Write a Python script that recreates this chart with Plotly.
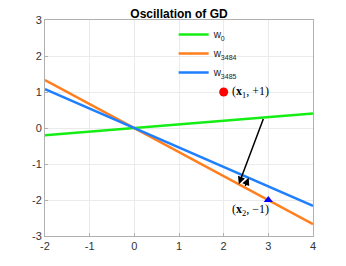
import numpy as np
import plotly.graph_objects as go

# data
x_range = [-2, 4]
slope_w0 = 0.1
slope_w3484 = -0.667
slope_w3485 = -0.54
p1 = (2, 1)
p2 = (3, -2)
big_arrow = [(2.9, 0.29), (2.34, -1.56)]
small_arrow = [(2.47, -1.65), (2.56, -1.38)]
x_ticks = [-2, -1, 0, 1, 2, 3, 4]
y_ticks = [-3, -2, -1, 0, 1, 2, 3]
x_tick_labels = ["-2", "-1", "0", "1", "2", "3", "4"]
y_tick_labels = ["-3", "-2", "-1", "0", "1", "2", "3"]

xs = np.array(x_range, dtype=float)
fig = go.Figure()
fig.add_trace(go.Scatter(x=xs, y=slope_w0 * xs, mode="lines", name="w<sub>0</sub>",
                         line=dict(color="#14ee14", width=2.5)))
fig.add_trace(go.Scatter(x=xs, y=slope_w3484 * xs, mode="lines", name="w<sub>3484</sub>",
                         line=dict(color="#ff7f1f", width=2.5)))
fig.add_trace(go.Scatter(x=xs, y=slope_w3485 * xs, mode="lines", name="w<sub>3485</sub>",
                         line=dict(color="#1f7fff", width=2.5)))
fig.add_trace(go.Scatter(x=[p1[0]], y=[p1[1]], mode="markers", showlegend=False,
                         marker=dict(color="red", size=9, symbol="circle")))
fig.add_trace(go.Scatter(x=[p2[0]], y=[p2[1]], mode="markers", showlegend=False,
                         marker=dict(color="blue", size=8, symbol="triangle-up")))

for (s, e) in [big_arrow, small_arrow]:
    fig.add_annotation(x=e[0], y=e[1], ax=s[0], ay=s[1], xref="x", yref="y",
                       axref="x", ayref="y", showarrow=True, arrowhead=2,
                       arrowsize=1, arrowwidth=1.5, arrowcolor="black", text="")

fig.add_annotation(x=p1[0] + 0.14, y=p1[1], text="(<b>x</b><sub>1</sub>, +1)",
                   showarrow=False, xanchor="left", yanchor="middle",
                   font=dict(family="Liberation Serif", size=12, color="black"))
fig.add_annotation(x=2.6, y=-2.28, text="(<b>x</b><sub>2</sub>, −1)",
                   showarrow=False, xanchor="center", yanchor="middle",
                   font=dict(family="Liberation Serif", size=12, color="black"))

axis_common = dict(showgrid=True, gridcolor="#ebebeb", showline=True, linecolor="#b0b0b0",
                   mirror=True, ticks="inside", ticklen=3, tickcolor="#b0b0b0",
                   zeroline=False, automargin=False,
                   tickfont=dict(family="Liberation Sans", size=11, color="#333"))
fig.update_xaxes(range=x_range, tickvals=x_ticks, ticktext=x_tick_labels, **axis_common)
fig.update_yaxes(range=[-3, 3], tickvals=y_ticks, ticktext=y_tick_labels, **axis_common)

fig.update_layout(
    width=346, height=266,
    margin=dict(l=37, r=41, t=12, b=38),
    plot_bgcolor="white", paper_bgcolor="white",
    title=dict(text="<b>Oscillation of GD</b>", x=0.5, xref="paper", xanchor="center",
               y=1, yref="paper", yanchor="bottom", pad=dict(b=2),
               font=dict(family="Liberation Sans", size=12, color="black")),
    legend=dict(x=0.48, y=1.0, xanchor="left", yanchor="top", bgcolor="rgba(0,0,0,0)",
                font=dict(family="Liberation Sans", size=10, color="#222"),
                tracegroupgap=0, itemwidth=30),
)
fig.write_html("out.html")
